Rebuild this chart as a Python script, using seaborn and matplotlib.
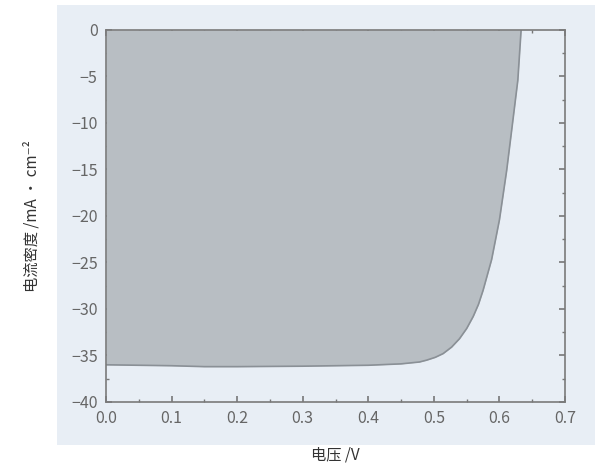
import matplotlib
matplotlib.use("Agg")
import matplotlib.pyplot as plt
import seaborn as sns
import pandas as pd
from matplotlib.patches import Rectangle
from matplotlib.ticker import MultipleLocator

# J-V curve
voltage = [0.0, 0.05, 0.10, 0.15, 0.20, 0.30, 0.40, 0.45, 0.478, 0.489, 0.502, 0.514, 0.527,
           0.539, 0.550, 0.560, 0.568, 0.575, 0.588, 0.600, 0.611, 0.6205, 0.628, 0.633]
current = [-36.0, -36.05, -36.1, -36.2, -36.2, -36.15, -36.05, -35.9, -35.7, -35.5, -35.2, -34.8, -34.1,
           -33.2, -32.1, -30.8, -29.5, -28.0, -24.7, -20.4, -15.1, -9.7, -5.4, 0.0]

x_ticks = [0.0, 0.1, 0.2, 0.3, 0.4, 0.5, 0.6, 0.7]
x_labels = ["0.0", "0.1", "0.2", "0.3", "0.4", "0.5", "0.6", "0.7"]
y_ticks = [0, -5, -10, -15, -20, -25, -30, -35, -40]

jv = pd.DataFrame({"voltage": voltage, "current": current})

bg = "#e8eef5"
sns.set_theme(style="ticks")
plt.rcParams['font.family'] = ['Noto Sans CJK SC', 'DejaVu Sans']
plt.rcParams['axes.unicode_minus'] = True

fig = plt.figure(figsize=(6.04, 4.70), dpi=100)
fig.patch.set_facecolor("white")
# light panel behind the plot (scanned figure look)
fig.patches.append(Rectangle((0.094, 0.053), 0.891, 0.936, transform=fig.transFigure,
                             facecolor=bg, edgecolor="none", zorder=-10))

ax = fig.add_axes([0.1755, 0.1447, 0.760, 0.7915])
ax.set_facecolor(bg)

ax.fill_between(jv["voltage"], jv["current"], 0, color="#b8bec3", lw=0, zorder=1)
sns.lineplot(data=jv, x="voltage", y="current", ax=ax, color="#8a9096", lw=1.2, zorder=2)

ax.set_xlim(0, 0.7)
ax.set_ylim(-40, 0)
ax.set_xticks(x_ticks)
ax.set_xticklabels(x_labels)
ax.set_yticks(y_ticks)
ax.xaxis.set_minor_locator(MultipleLocator(0.05))
ax.yaxis.set_minor_locator(MultipleLocator(2.5))
ax.tick_params(which="both", direction="in", top=True, right=True, color="#777777")
ax.tick_params(which="major", length=4, width=1.2, labelsize=11.5, labelcolor="#666666", pad=6)
ax.tick_params(which="minor", length=2, width=1.0)
for s in ax.spines.values():
    s.set_color("#7a7a7a")
    s.set_linewidth(1.2)

ax.set_xlabel("电压 /V", fontsize=11, color="#333333", labelpad=14)
ax.set_ylabel("电流密度 /mA · cm⁻²", fontsize=11, color="#333333", labelpad=22)

fig.savefig("out.png", dpi=100)
